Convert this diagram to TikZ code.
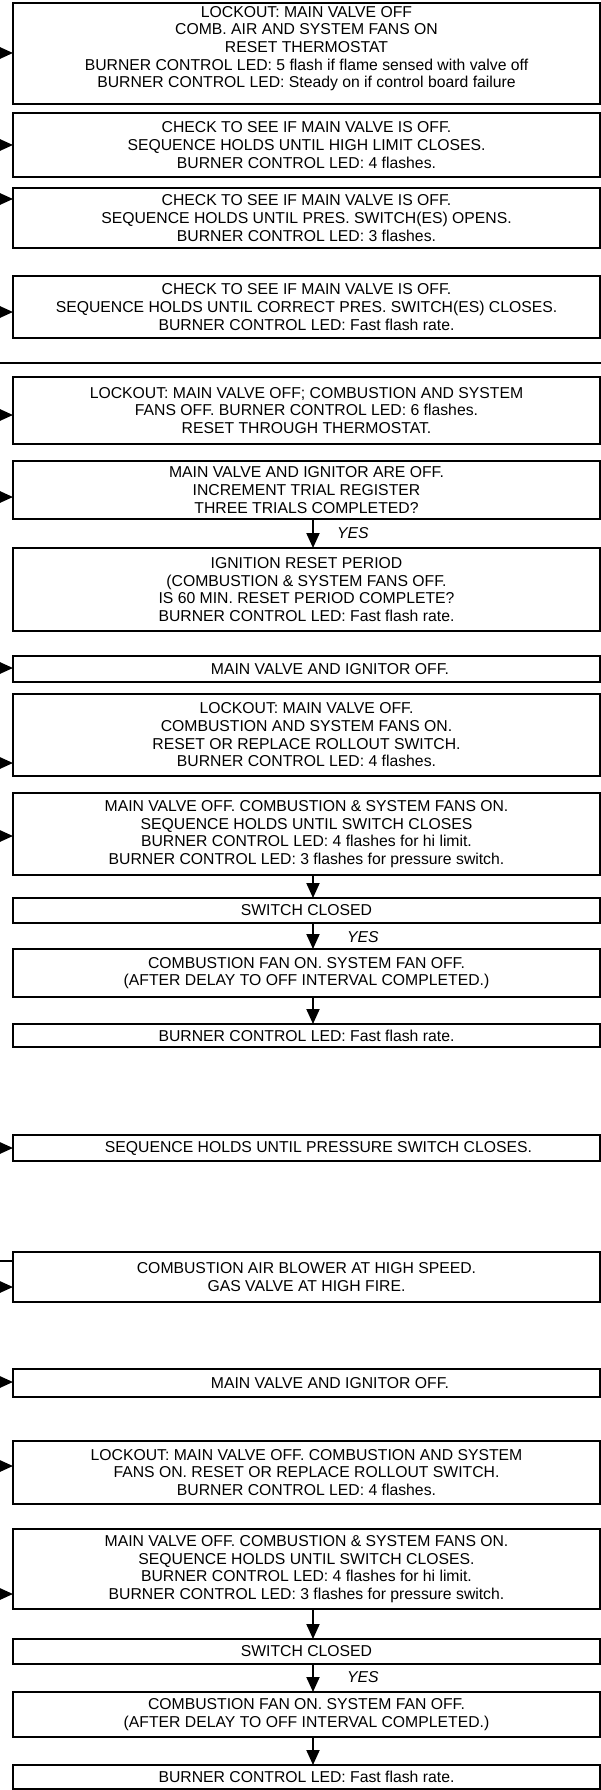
\documentclass[tikz,border=0pt]{standalone}
\usepackage{fontspec}
\setmainfont{Liberation Sans}
\usetikzlibrary{arrows.meta}
\begin{document}
\begin{tikzpicture}[x=1pt,y=-1pt,
  txt/.style={font=\fontsize{15.75}{17.7}\selectfont},
  box/.style={txt, draw, line width=2.2pt, minimum width=587pt, anchor=north west,
    inner sep=0pt, outer sep=0pt, align=center},
  arr/.style={line width=2pt, -{Triangle[length=15pt,width=13pt]}},
  plain/.style={line width=1.6pt},
  yes/.style={font=\fontsize{15.75}{17.7}\selectfont\itshape, anchor=west, inner sep=0pt}]
\fill[white] (0,0) rectangle (601,1790);
\useasboundingbox (0,0) rectangle (601,1790);

\node[box, minimum height=101pt] (b1) at (13,3) {LOCKOUT: MAIN VALVE OFF\\COMB. AIR AND SYSTEM FANS ON\\RESET THERMOSTAT\\BURNER CONTROL LED: 5 flash if flame sensed with valve off\\BURNER CONTROL LED: Steady on if control board failure\rule[-13pt]{0pt}{1pt}};
\node[box, minimum height=64pt] (b2) at (13,113) {CHECK TO SEE IF MAIN VALVE IS OFF.\\SEQUENCE HOLDS UNTIL HIGH LIMIT CLOSES.\\BURNER CONTROL LED: 4 flashes.};
\node[box, minimum height=60pt] (b3) at (13,188) {CHECK TO SEE IF MAIN VALVE IS OFF.\\SEQUENCE HOLDS UNTIL PRES. SWITCH(ES) OPENS.\\BURNER CONTROL LED: 3 flashes.};
\node[box, minimum height=62pt] (b4) at (13,276) {CHECK TO SEE IF MAIN VALVE IS OFF.\\SEQUENCE HOLDS UNTIL CORRECT PRES. SWITCH(ES) CLOSES.\\BURNER CONTROL LED: Fast flash rate.};

\coordinate (s0) at (0,363);
\coordinate (s1) at (601,363);
\draw[line width=2.6pt] (s0) -- (s1);

\node[box, minimum height=67pt] (b5) at (13,377) {LOCKOUT: MAIN VALVE OFF; COMBUSTION AND SYSTEM\\FANS OFF. BURNER CONTROL LED: 6 flashes.\\RESET THROUGH THERMOSTAT.};
\node[box, minimum height=58pt] (b6) at (13,461) {MAIN VALVE AND IGNITOR ARE OFF.\\INCREMENT TRIAL REGISTER\\THREE TRIALS COMPLETED?};
\node[box, minimum height=83pt] (b7) at (13,548) {IGNITION RESET PERIOD\\(COMBUSTION \& SYSTEM FANS OFF.\\IS 60 MIN. RESET PERIOD COMPLETE?\\BURNER CONTROL LED: Fast flash rate.};
\node[box, minimum height=26pt] (b8) at (13,656) {\hspace*{47pt}MAIN VALVE AND IGNITOR OFF.};
\node[box, minimum height=82pt] (b9) at (13,694) {LOCKOUT: MAIN VALVE OFF.\\COMBUSTION AND SYSTEM FANS ON.\\RESET OR REPLACE ROLLOUT SWITCH.\\BURNER CONTROL LED: 4 flashes.};
\node[box, minimum height=82pt] (b10) at (13,793) {MAIN VALVE OFF. COMBUSTION \& SYSTEM FANS ON.\\SEQUENCE HOLDS UNTIL SWITCH CLOSES\\BURNER CONTROL LED: 4 flashes for hi limit.\\BURNER CONTROL LED: 3 flashes for pressure switch.};
\node[box, minimum height=25pt] (b11) at (13,898) {SWITCH CLOSED};
\node[box, minimum height=48pt] (b12) at (13,949) {COMBUSTION FAN ON. SYSTEM FAN OFF.\\(AFTER DELAY TO OFF INTERVAL COMPLETED.)};
\node[box, minimum height=23pt] (b13) at (13,1024) {BURNER CONTROL LED: Fast flash rate.};

\node[box, minimum height=26pt] (b14) at (13,1135) {\hspace*{24pt}SEQUENCE HOLDS UNTIL PRESSURE SWITCH CLOSES.};
\node[box, minimum height=50pt] (b15) at (13,1252) {COMBUSTION AIR BLOWER AT HIGH SPEED.\\GAS VALVE AT HIGH FIRE.};
\node[box, minimum height=28pt] (b16) at (13,1369) {\hspace*{47pt}MAIN VALVE AND IGNITOR OFF.};
\node[box, minimum height=63pt] (b17) at (13,1441) {LOCKOUT: MAIN VALVE OFF. COMBUSTION AND SYSTEM\\FANS ON. RESET OR REPLACE ROLLOUT SWITCH.\\BURNER CONTROL LED: 4 flashes.};
\node[box, minimum height=80pt] (b18) at (13,1529) {MAIN VALVE OFF. COMBUSTION \& SYSTEM FANS ON.\\SEQUENCE HOLDS UNTIL SWITCH CLOSES.\\BURNER CONTROL LED: 4 flashes for hi limit.\\BURNER CONTROL LED: 3 flashes for pressure switch.};
\node[box, minimum height=25pt] (b19) at (13,1639) {SWITCH CLOSED};
\node[box, minimum height=45pt] (b20) at (13,1692) {COMBUSTION FAN ON. SYSTEM FAN OFF.\\(AFTER DELAY TO OFF INTERVAL COMPLETED.)};
\node[box, minimum height=24pt] (b21) at (13,1765) {BURNER CONTROL LED: Fast flash rate.};

% arrows entering from the left
\foreach \b/\y in {b1/53, b2/145, b3/199, b4/312, b5/415, b6/497, b8/668, b9/763,
                   b10/836, b14/1148, b15/1287, b16/1382, b17/1466, b18/1594} {
  \coordinate (l\b) at (0,\y);
  \draw[arr] (l\b) -- (l\b -| \b.west);
}
\coordinate (lp) at (0,1261);
\draw[plain] (lp) -- (lp -| b15.west);

% vertical arrows
\coordinate (xa) at (313,0);
\draw[arr] (b6.south -| xa) -- (b7.north -| xa);
\draw[arr] (b10.south -| xa) -- (b11.north -| xa);
\draw[arr] (b11.south -| xa) -- (b12.north -| xa);
\draw[arr] (b12.south -| xa) -- (b13.north -| xa);
\draw[arr] (b18.south -| xa) -- (b19.north -| xa);
\draw[arr] (b19.south -| xa) -- (b20.north -| xa);
\draw[arr] (b20.south -| xa) -- (b21.north -| xa);

\node[yes] (y1) at (337,533) {YES};
\node[yes] (y2) at (347,937) {YES};
\node[yes] (y3) at (347,1677) {YES};
\end{tikzpicture}
\end{document}
